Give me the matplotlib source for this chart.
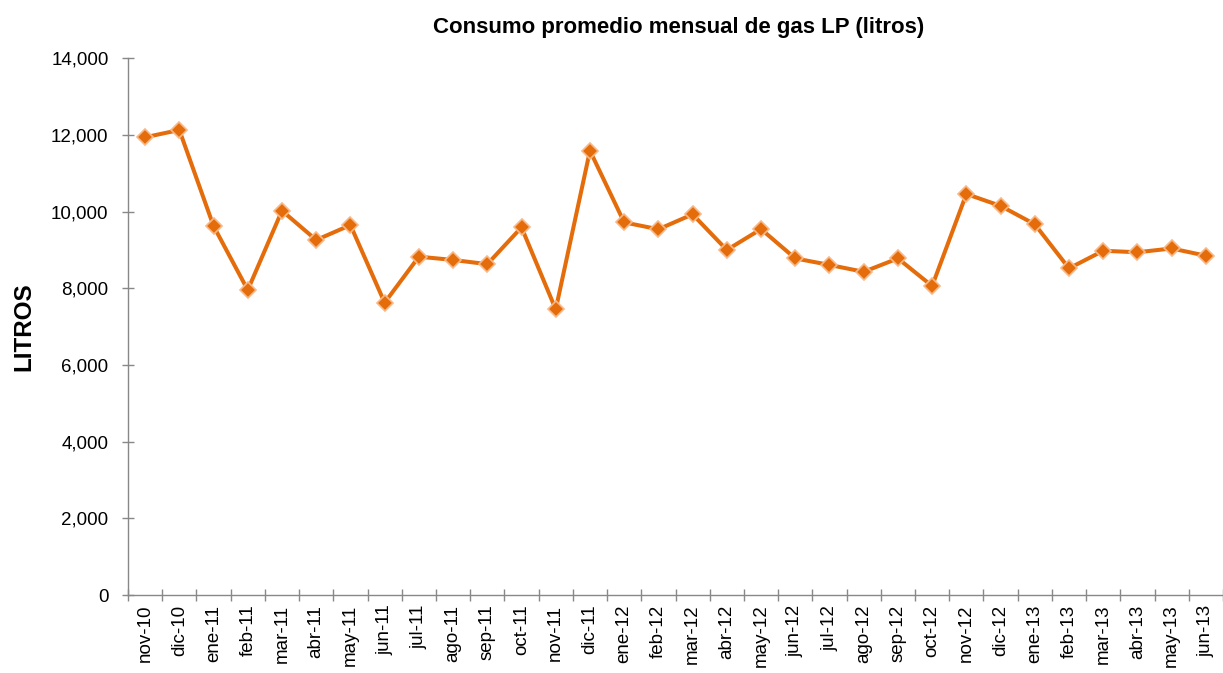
import numpy as np
import matplotlib.pyplot as plt
from matplotlib.ticker import FuncFormatter, FixedLocator

plt.rcParams['font.family'] = ['Liberation Sans', 'DejaVu Sans']

meses = ["nov-10", "dic-10", "ene-11", "feb-11", "mar-11", "abr-11", "may-11", "jun-11",
         "jul-11", "ago-11", "sep-11", "oct-11", "nov-11", "dic-11", "ene-12", "feb-12",
         "mar-12", "abr-12", "may-12", "jun-12", "jul-12", "ago-12", "sep-12", "oct-12",
         "nov-12", "dic-12", "ene-13", "feb-13", "mar-13", "abr-13", "may-13", "jun-13"]
litros = [11940, 12130, 9625, 7955, 10025, 9260, 9650, 7625,
          8825, 8740, 8630, 9590, 7450, 11590, 9720, 9540,
          9930, 9000, 9545, 8780, 8610, 8430, 8780, 8060,
          10460, 10150, 9670, 8520, 8980, 8940, 9040, 8850]

fig = plt.figure(figsize=(12.23, 6.73), dpi=100)
ax = fig.add_axes([128 / 1223, 1 - 595 / 673, 1 - 128 / 1223, (595 - 58.3) / 673])

x = np.arange(len(meses))
ax.plot(x, litros, color='#E46C0A', lw=2.9, marker='D', ms=8.5,
        markerfacecolor='#E46C0A', markeredgecolor='#F8B888', markeredgewidth=1.2)

ax.set_xlim(-0.5, len(meses) - 0.5)
ax.set_ylim(0, 14000)
ax.set_yticks(np.arange(0, 14001, 2000))
ax.yaxis.set_major_formatter(FuncFormatter(lambda v, p: f"{int(v):,}"))

ax.set_xticks(x)
ax.set_xticklabels(meses, rotation=90, fontsize=13.5)
ax.xaxis.set_minor_locator(FixedLocator(np.arange(-0.5, len(meses), 1)))
ax.tick_params(axis='x', which='major', length=0, pad=7)
ax.tick_params(axis='x', which='minor', direction='inout', length=8, color='#888888', width=1)
ax.tick_params(axis='y', direction='inout', length=8, color='#888888', width=1,
               labelsize=13.5, pad=10)

for s in ['top', 'right']:
    ax.spines[s].set_visible(False)
for s in ['left', 'bottom']:
    ax.spines[s].set_color('#888888')
    ax.spines[s].set_linewidth(1)

ax.set_ylabel("LITROS", fontsize=17.5, fontweight='bold', labelpad=11)
fig.text(679 / 1223, 1 - 28 / 673, "Consumo promedio mensual de gas LP (litros)", ha='center', va='center',
         fontsize=16, fontweight='bold')

plt.savefig('out.png', dpi=100)
